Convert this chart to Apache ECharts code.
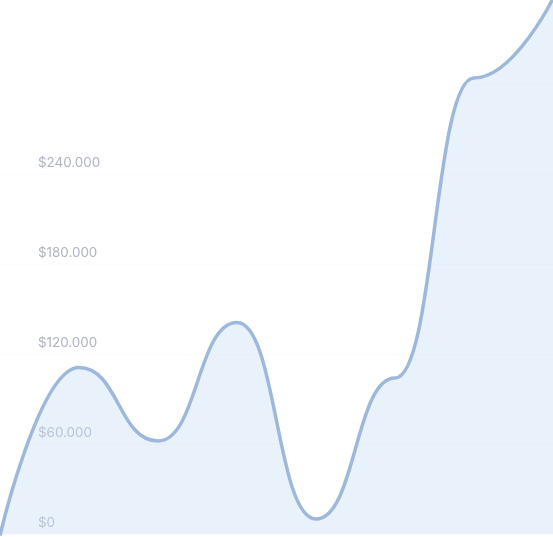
<!DOCTYPE html>
<html>
<head>
<meta charset="utf-8">
<script src="https://cdn.jsdelivr.net/npm/echarts@6/dist/echarts.min.js"></script>
<style>
  html, body { margin: 0; padding: 0; background: #fff; }
  #chart { width: 553px; height: 537px; }
</style>
</head>
<body>
<div id="chart"></div>
<script>
var categories = ['1', '2', '3', '4', '5', '6', '7', '8']
var revenue = [-1000, 111000, 62000, 141000, 10000, 104000, 304000, 357000]

var chart = echarts.init(document.getElementById('chart'))
chart.setOption({
  animation: false,
  grid: {
    left: 0,
    right: 0,
    top: 84,
    bottom: 3
  },
  xAxis: {
    type: 'category',
    data: categories,
    boundaryGap: false,
    axisLine: { show: false },
    axisTick: { show: false },
    axisLabel: { show: false }
  },
  yAxis: {
    type: 'value',
    min: 0,
    max: 300000,
    interval: 60000,
    axisLine: { show: false },
    axisTick: { show: false },
    splitLine: {
      lineStyle: { color: '#fafbfd', width: 1 }
    },
    axisLabel: {
      inside: true,
      margin: 38,
      showMaxLabel: false,
      verticalAlign: 'bottom',
      padding: [0, 0, 5, 0],
      color: '#b0b3c1',
      fontFamily: 'Inter',
      fontSize: 13.4,
      formatter: function (v) {
        return v === 0 ? '$0' : '$' + (v / 1000) + '.000'
      }
    }
  },
  series: [
    {
      type: 'line',
      data: revenue,
      smooth: 0.5,
      smoothMonotone: 'x',
      symbol: 'none',
      clip: false,
      lineStyle: { color: '#9db8db', width: 3.5 },
      areaStyle: { color: 'rgb(200, 220, 245)', opacity: 0.4 }
    }
  ]
})
</script>
</body>
</html>
